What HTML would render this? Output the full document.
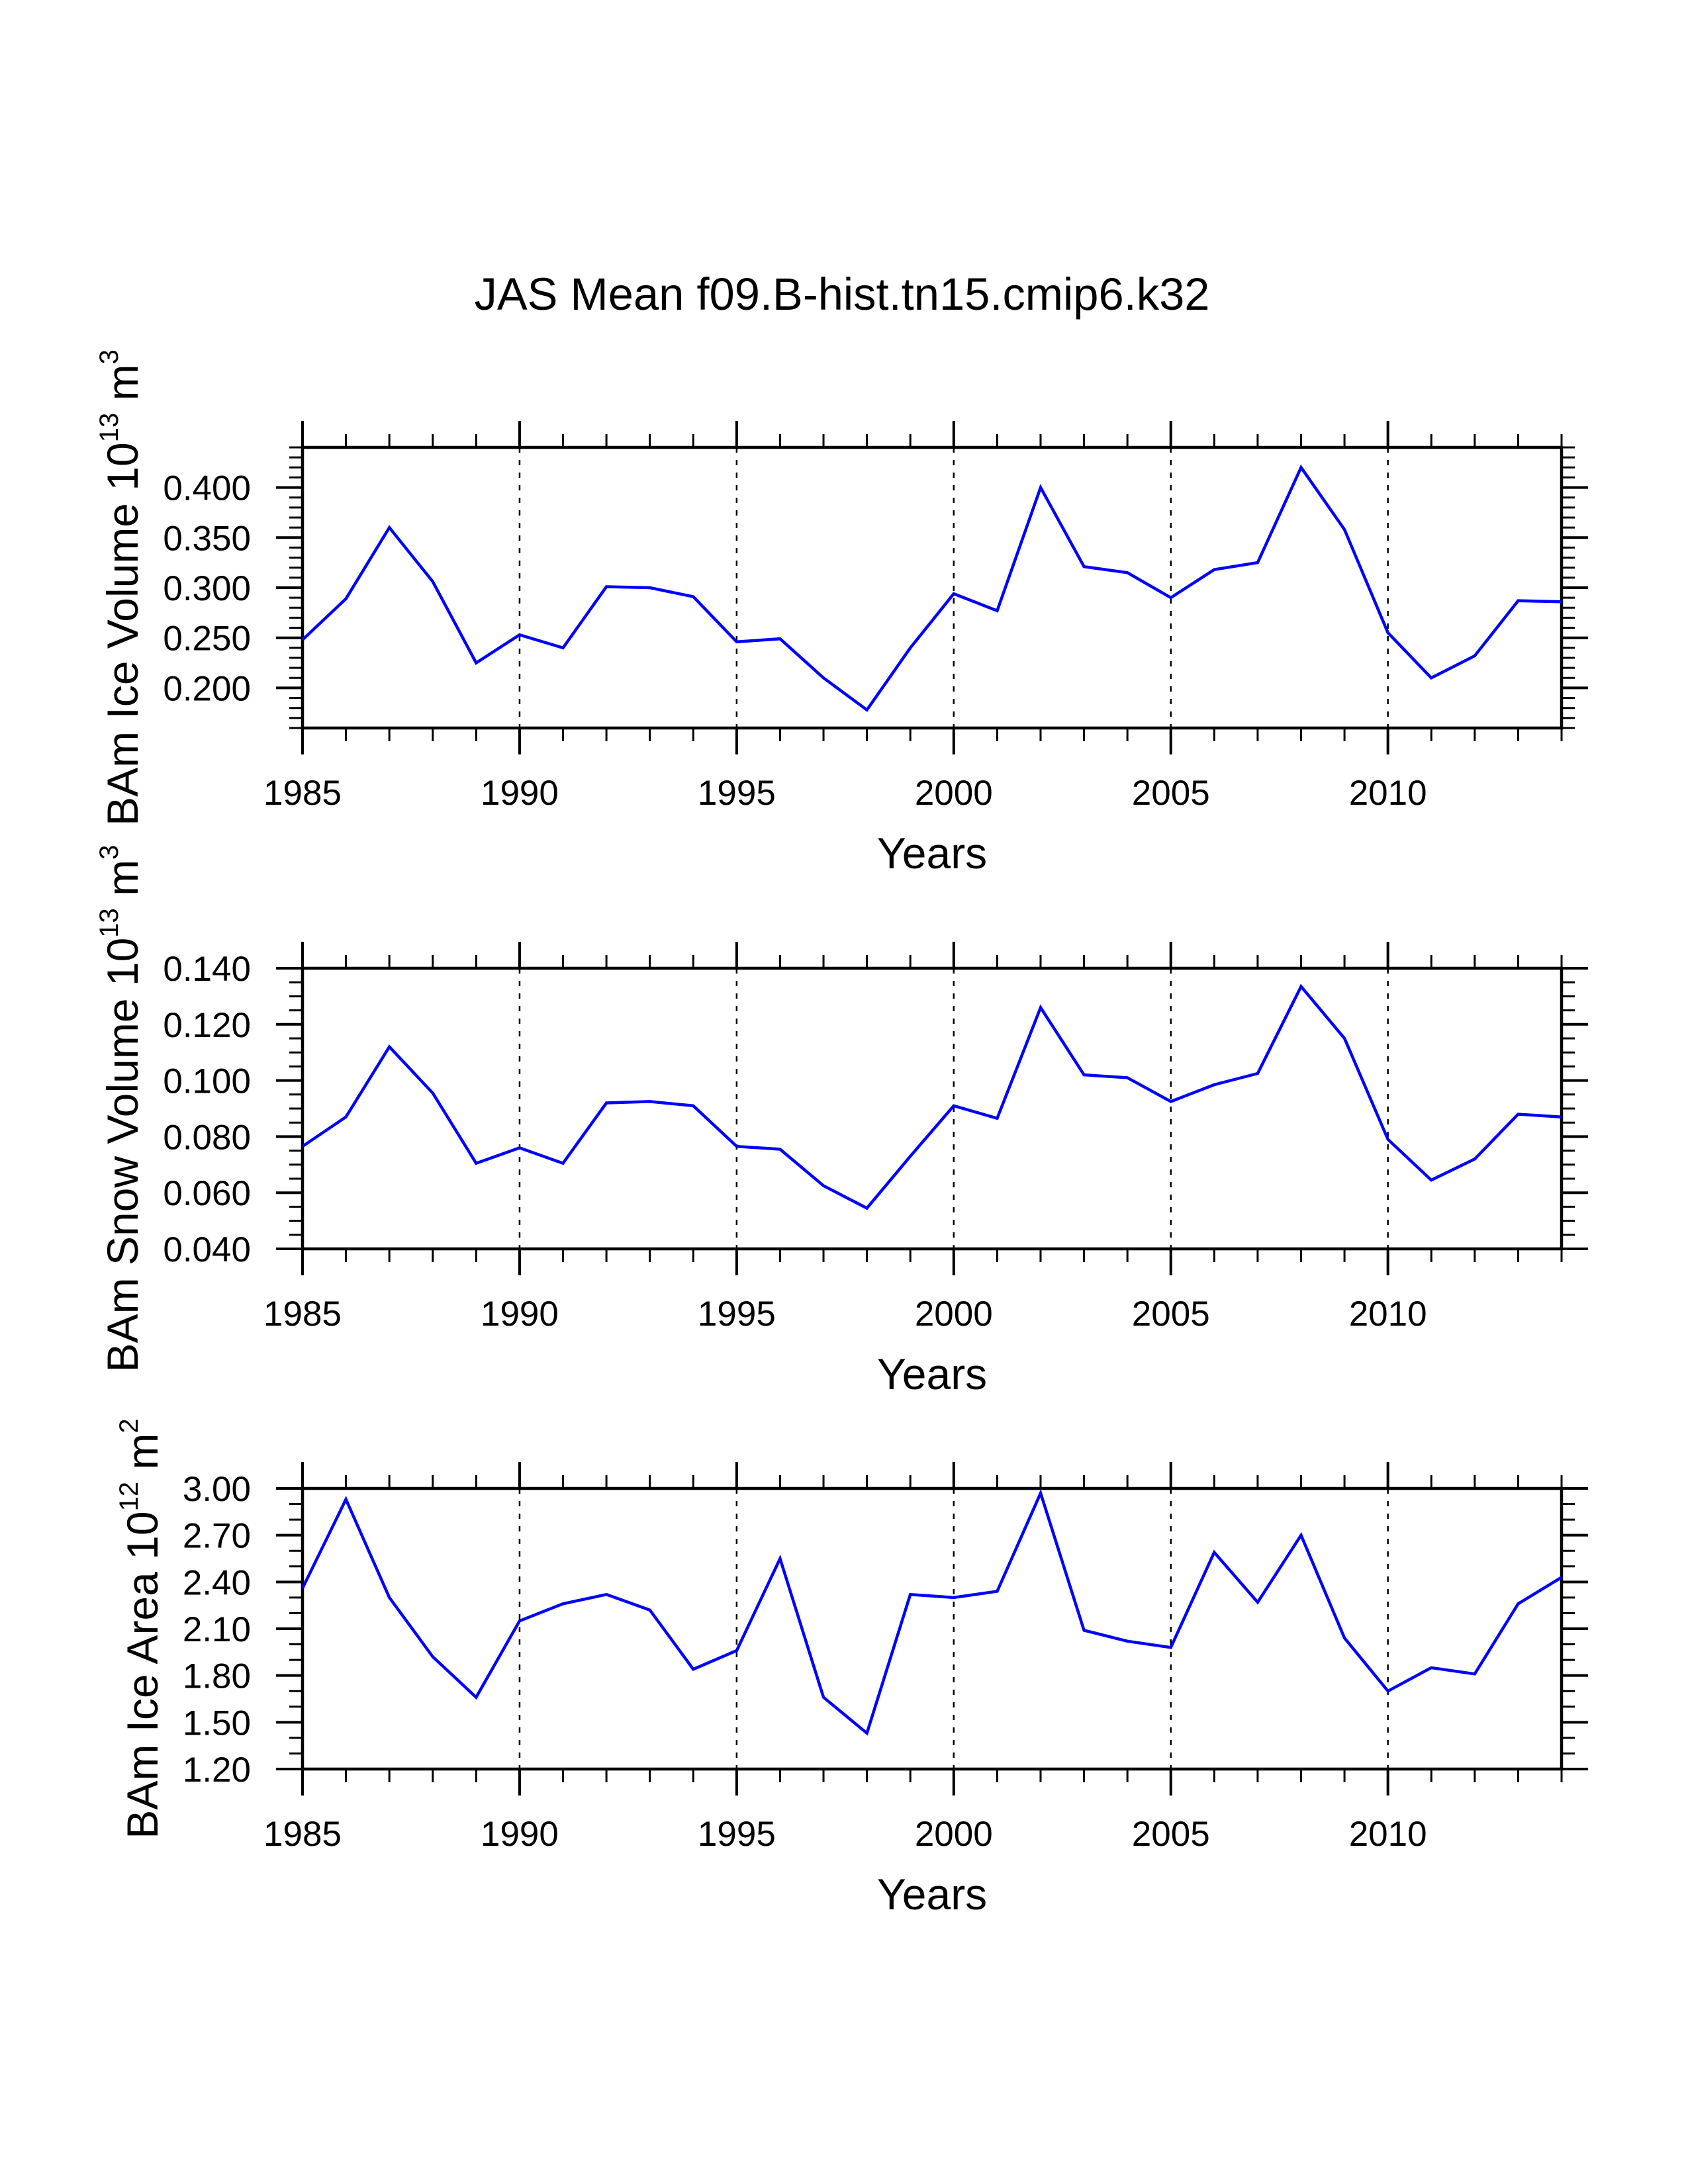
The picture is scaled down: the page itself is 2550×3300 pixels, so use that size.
<!DOCTYPE html>
<html><head><meta charset="utf-8"><title>JAS Mean f09.B-hist.tn15.cmip6.k32</title>
<style>html,body{margin:0;padding:0;background:#fff}svg{display:block}</style></head>
<body>
<svg id="chart" xmlns="http://www.w3.org/2000/svg" width="2550" height="3300" viewBox="0 0 2550 3300" font-family="'Liberation Sans', Arial, sans-serif">
<rect width="2550" height="3300" fill="#fff"/>
<text x="1272" y="468" font-size="69" text-anchor="middle" textLength="1111" lengthAdjust="spacingAndGlyphs">JAS Mean f09.B-hist.tn15.cmip6.k32</text>
</svg>
<script>
const years = [1985,1986,1987,1988,1989,1990,1991,1992,1993,1994,1995,1996,1997,1998,1999,2000,2001,2002,2003,2004,2005,2006,2007,2008,2009,2010,2011,2012,2013,2014];
const iceVolume = [0.248,0.289,0.360,0.306,0.225,0.253,0.240,0.301,0.300,0.291,0.246,0.249,0.210,0.178,0.240,0.294,0.277,0.400,0.321,0.315,0.290,0.318,0.325,0.420,0.358,0.255,0.210,0.232,0.287,0.286];
const snowVolume = [0.0765,0.087,0.112,0.0955,0.0705,0.076,0.0705,0.092,0.0925,0.091,0.0765,0.0755,0.0625,0.0545,0.073,0.091,0.0865,0.126,0.102,0.101,0.0925,0.0985,0.1025,0.1335,0.115,0.079,0.0645,0.072,0.088,0.087];
const iceArea = [2.36,2.93,2.30,1.92,1.66,2.15,2.26,2.32,2.22,1.84,1.96,2.55,1.66,1.43,2.32,2.30,2.34,2.97,2.09,2.02,1.98,2.59,2.27,2.70,2.04,1.70,1.85,1.81,2.26,2.43];
const xTickLabels = ["1985","1990","1995","2000","2005","2010"];
const iceVolTicks = ["0.200","0.250","0.300","0.350","0.400"];
const snowVolTicks = ["0.040","0.060","0.080","0.100","0.120","0.140"];
const iceAreaTicks = ["1.20","1.50","1.80","2.10","2.40","2.70","3.00"];

const NS = "http://www.w3.org/2000/svg";
const svg = document.getElementById('chart');
const X0 = 457, X1 = 2359, XMIN = 1985, XMAX = 2014;
function xScale(v){ return X0 + (v - XMIN) / (XMAX - XMIN) * (X1 - X0); }
function mk(tag, attrs, parent){
  const e = document.createElementNS(NS, tag);
  for (const k in attrs) e.setAttribute(k, attrs[k]);
  (parent || svg).appendChild(e);
  return e;
}

const panels = [
  {key:'ice-volume', top:676, ymin:0.16, ymax:0.44, major:0.05, minor:0.01, ticks:iceVolTicks, data:iceVolume, labelX:208, parts:["BAm Ice Volume 10","13"," m","3"]},
  {key:'snow-volume', top:1463, ymin:0.04, ymax:0.14, major:0.02, minor:0.005, ticks:snowVolTicks, data:snowVolume, labelX:208, parts:["BAm Snow Volume 10","13"," m","3"]},
  {key:'ice-area', top:2249, ymin:1.2, ymax:3.0, major:0.3, minor:0.1, ticks:iceAreaTicks, data:iceArea, labelX:238, parts:["BAm Ice Area 10","12"," m","2"]}
];
const H = 424;

panels.forEach(p => {
  const top = p.top, bot = p.top + H;
  const yScale = v => bot - (v - p.ymin) / (p.ymax - p.ymin) * H;
  const g = mk('g', {});
  
  

  // dashed grid lines at major x ticks (interior)
  xTickLabels.forEach(t => {
    const yr = +t;
    if (yr === XMIN || yr === XMAX) return;
    const l = mk('line', {x1:xScale(yr), x2:xScale(yr), y1:top, y2:bot, stroke:'#000', 'stroke-width':2.5, 'stroke-dasharray':'8 11'}, g);
    
    
  });

  // x ticks top and bottom (every year, major every 5)
  for (let yr = XMIN; yr <= XMAX; yr++) {
    const isMaj = (yr - XMIN) % 5 === 0;
    const len = isMaj ? 40 : 20, sw = isMaj ? 4 : 3;
    const x = xScale(yr);
    const a = mk('line', {x1:x, x2:x, y1:top, y2:top - len, stroke:'#000', 'stroke-width':sw}, g);
    
    
    const b = mk('line', {x1:x, x2:x, y1:bot, y2:bot + len, stroke:'#000', 'stroke-width':sw}, g);
    
    
  }
  xTickLabels.forEach(t => {
    const tx = mk('text', {x:xScale(+t), y:bot + 116, 'font-size':53, 'text-anchor':'middle'}, g);
    tx.textContent = t;
    
    
  });

  // y ticks left and right
  const nMinor = Math.round((p.ymax - p.ymin) / p.minor);
  const ratio = Math.round(p.major / p.minor);
  const firstMajorIdx = Math.round(((Math.ceil((p.ymin - 1e-9) / p.major) * p.major) - p.ymin) / p.minor);
  for (let i = 0; i <= nMinor; i++) {
    const v = p.ymin + i * p.minor;
    const isMaj = ((i - firstMajorIdx) % ratio + ratio) % ratio === 0;
    const len = isMaj ? 40 : 20, sw = isMaj ? 4 : 3;
    const y = yScale(v);
    const a = mk('line', {x1:X0, x2:X0 - len, y1:y, y2:y, stroke:'#000', 'stroke-width':sw}, g);
    
    
    const b = mk('line', {x1:X1, x2:X1 + len, y1:y, y2:y, stroke:'#000', 'stroke-width':sw}, g);
    
    
  }
  p.ticks.forEach(t => {
    const tx = mk('text', {x:379, y:yScale(parseFloat(t)) + 19, 'font-size':53, 'text-anchor':'end'}, g);
    tx.textContent = t;
    
    
  });

  // frame
  const fr = mk('rect', {x:X0, y:top, width:X1 - X0, height:H, fill:'none', stroke:'#000', 'stroke-width':4.5}, g);
  
  

  // series
  const pts = p.data.map((v, i) => xScale(years[i]).toFixed(1) + ',' + yScale(v).toFixed(1)).join(' ');
  const pl = mk('polyline', {points:pts, fill:'none', stroke:'#0000ff', 'stroke-width':4.5, 'stroke-linejoin':'miter'}, g);
  
  

  // x axis title
  const xt = mk('text', {x:(X0 + X1) / 2, y:bot + 212, 'font-size':66, 'text-anchor':'middle'}, g);
  xt.textContent = 'Years';
  
  

  // y axis title (rotated)
  const cy = top + H / 2;
  const yt = mk('text', {x:0, y:0, 'font-size':66, 'text-anchor':'middle', transform:'translate(' + p.labelX + ',' + cy + ') rotate(-90)'}, g);
  
  
  p.parts.forEach((s, i) => {
    const sup = i % 2 === 1;
    const ts = mk('tspan', sup ? {'font-size':40, dy:-30} : {dy: i === 0 ? 0 : 30}, yt);
    ts.textContent = sup ? s : (i === 0 ? s : '\u00a0' + s.trim());
  });
});
</script>
</body></html>
